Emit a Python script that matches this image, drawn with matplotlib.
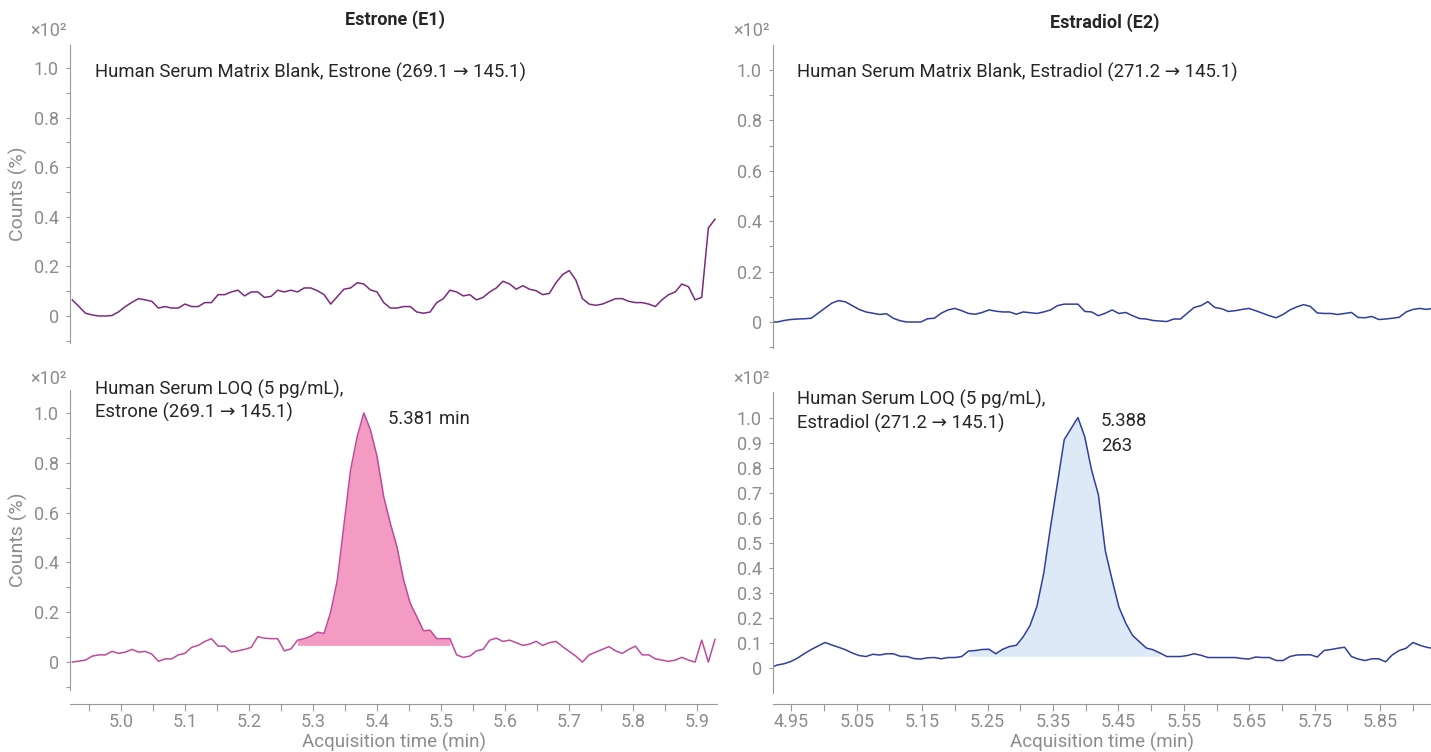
import numpy as np
import matplotlib
matplotlib.use("Agg")
import matplotlib.pyplot as plt
from matplotlib.ticker import FixedLocator, FuncFormatter

plt.rcParams['font.family'] = ['Roboto', 'DejaVu Sans']

# sampling of the two transitions (min)
e1_t0, e1_dt = 4.9236, 0.01036
e2_t0, e2_dt = 4.9178, 0.01045

# counts (x10^2)
e1_blank = [0.065, 0.038, 0.011, 0.004, 0.0, 0.0, 0.002, 0.017, 0.038, 0.055,
            0.070, 0.065, 0.059, 0.032, 0.038, 0.032, 0.032, 0.048, 0.038, 0.038,
            0.054, 0.054, 0.086, 0.086, 0.097, 0.104, 0.081, 0.097, 0.097, 0.075,
            0.079, 0.104, 0.097, 0.104, 0.097, 0.113, 0.113, 0.102, 0.086, 0.048,
            0.078, 0.108, 0.113, 0.134, 0.129, 0.105, 0.097, 0.054, 0.032, 0.032,
            0.038, 0.038, 0.016, 0.011, 0.016, 0.054, 0.070, 0.104, 0.097, 0.081,
            0.086, 0.065, 0.075, 0.097, 0.113, 0.140, 0.129, 0.108, 0.122, 0.108,
            0.102, 0.086, 0.091, 0.134, 0.167, 0.183, 0.145, 0.070, 0.048, 0.043,
            0.048, 0.059, 0.070, 0.070, 0.059, 0.054, 0.054, 0.048, 0.038, 0.065,
            0.086, 0.097, 0.129, 0.118, 0.065, 0.075, 0.355, 0.390]

e1_loq = [0.0, 0.004, 0.008, 0.024, 0.029, 0.029, 0.043, 0.035, 0.040, 0.051,
          0.040, 0.043, 0.032, 0.003, 0.013, 0.013, 0.029, 0.035, 0.059, 0.067,
          0.083, 0.094, 0.064, 0.064, 0.040, 0.045, 0.051, 0.059, 0.102, 0.096,
          0.094, 0.094, 0.045, 0.053, 0.088, 0.094, 0.104, 0.120, 0.115, 0.201,
          0.329, 0.550, 0.771, 0.905, 1.0, 0.932, 0.825, 0.664, 0.557, 0.463,
          0.330, 0.236, 0.182, 0.126, 0.128, 0.094, 0.094, 0.094, 0.029, 0.019,
          0.024, 0.045, 0.051, 0.088, 0.096, 0.083, 0.088, 0.078, 0.067, 0.072,
          0.083, 0.067, 0.078, 0.083, 0.062, 0.043, 0.024, 0.0, 0.029, 0.040,
          0.051, 0.062, 0.045, 0.035, 0.051, 0.064, 0.029, 0.029, 0.013, 0.008,
          0.003, 0.008, 0.019, 0.008, 0.0, 0.088, 0.0, 0.091]

e2_blank = [0.0, 0.0, 0.006, 0.010, 0.012, 0.013, 0.015, 0.035, 0.055, 0.075,
            0.085, 0.080, 0.065, 0.050, 0.040, 0.035, 0.030, 0.033, 0.015, 0.005,
            0.0, 0.0, 0.0, 0.013, 0.015, 0.035, 0.048, 0.054, 0.045, 0.034,
            0.031, 0.038, 0.048, 0.043, 0.040, 0.040, 0.031, 0.040, 0.037, 0.034,
            0.040, 0.048, 0.065, 0.071, 0.071, 0.071, 0.042, 0.040, 0.025, 0.035,
            0.048, 0.034, 0.038, 0.025, 0.014, 0.012, 0.006, 0.004, 0.002, 0.012,
            0.012, 0.035, 0.058, 0.065, 0.081, 0.058, 0.053, 0.042, 0.045, 0.050,
            0.054, 0.045, 0.035, 0.025, 0.017, 0.030, 0.048, 0.060, 0.069, 0.062,
            0.036, 0.034, 0.034, 0.030, 0.034, 0.038, 0.018, 0.017, 0.022, 0.010,
            0.012, 0.015, 0.019, 0.040, 0.050, 0.054, 0.050, 0.055]

e2_loq = [0.0, 0.012, 0.017, 0.026, 0.040, 0.058, 0.074, 0.088, 0.102, 0.092,
          0.083, 0.073, 0.060, 0.050, 0.046, 0.055, 0.052, 0.057, 0.057, 0.047,
          0.046, 0.038, 0.036, 0.041, 0.042, 0.037, 0.042, 0.042, 0.046, 0.068,
          0.070, 0.074, 0.075, 0.057, 0.075, 0.086, 0.091, 0.125, 0.170, 0.246,
          0.378, 0.564, 0.737, 0.912, 0.956, 1.0, 0.923, 0.790, 0.691, 0.469,
          0.352, 0.243, 0.179, 0.130, 0.105, 0.080, 0.073, 0.060, 0.046, 0.046,
          0.046, 0.050, 0.057, 0.051, 0.042, 0.042, 0.042, 0.042, 0.042, 0.038,
          0.036, 0.044, 0.042, 0.042, 0.030, 0.030, 0.046, 0.052, 0.053, 0.053,
          0.044, 0.070, 0.074, 0.079, 0.083, 0.046, 0.036, 0.030, 0.037, 0.037,
          0.025, 0.053, 0.070, 0.079, 0.102, 0.091, 0.083, 0.078]

# integrated peak windows (index range) and their baselines
e1_win, e1_base = (34, 58), 0.067
e2_win, e2_base = (29, 58), 0.047

e1_time = e1_t0 + e1_dt * np.arange(len(e1_blank))
e2_time = e2_t0 + e2_dt * np.arange(len(e2_blank))

W, H = 1431, 752
fig = plt.figure(figsize=(W / 100, H / 100), dpi=100)

GREY = '#8c8c8c'
SPINE = '#9a9a9a'
INK = '#262626'
FS = 13.3


def px_box(x0, x1, ytop, ybot):
    return [x0 / W, 1 - ybot / H, (x1 - x0) / W, (ybot - ytop) / H]


def ftext(x, y, s, **kw):
    kw.setdefault('fontsize', FS)
    kw.setdefault('color', INK)
    kw.setdefault('va', 'center')
    fig.text(x / W, 1 - y / H, s, **kw)


def yfmt(v, pos):
    return '0' if abs(v) < 1e-9 else '%.1f' % v


def style(ax, ylim, major, minor):
    ax.set_ylim(*ylim)
    for s in ('top', 'right'):
        ax.spines[s].set_visible(False)
    ax.spines['left'].set_color(SPINE)
    ax.spines['bottom'].set_color(SPINE)
    ax.yaxis.set_major_locator(FixedLocator(major))
    ax.yaxis.set_minor_locator(FixedLocator(minor))
    ax.yaxis.set_major_formatter(FuncFormatter(yfmt))
    ax.tick_params(axis='y', which='both', length=3, width=0.8, color=SPINE,
                   labelcolor=GREY, labelsize=13, pad=5)
    ax.set_facecolor('none')


ax_tl = fig.add_axes(px_box(70, 717, 45, 343))
ax_tr = fig.add_axes(px_box(773, 1431, 45, 348))
ax_bl = fig.add_axes(px_box(70, 717, 390, 690))
ax_br = fig.add_axes(px_box(773, 1431, 392, 693))

y02 = [0, 0.2, 0.4, 0.6, 0.8, 1.0]
y02m = [-0.1, 0.1, 0.3, 0.5, 0.7, 0.9]
style(ax_tl, (-0.109, 1.093), y02, y02m)
style(ax_tr, (-0.103, 1.099), y02, y02m)
style(ax_bl, (-0.112, 1.092), y02, y02m)
style(ax_br, (-0.0996, 1.102), [round(0.1 * i, 1) for i in range(11)], [-0.1])

for ax in (ax_tl, ax_tr):
    ax.spines['bottom'].set_visible(False)
    ax.set_xticks([])

ax_tl.set_xlim(4.920, 5.9317)
ax_bl.set_xlim(4.920, 5.9317)
ax_tr.set_xlim(4.922, 5.9277)
ax_br.set_xlim(4.922, 5.9277)

ax_bl.xaxis.set_major_locator(FixedLocator(np.round(np.arange(5.0, 5.95, 0.1), 2)))
ax_bl.xaxis.set_minor_locator(FixedLocator(np.round(np.arange(4.95, 5.95, 0.1), 2)))
ax_bl.xaxis.set_major_formatter(FuncFormatter(lambda v, p: '%.1f' % v))
ax_br.xaxis.set_major_locator(FixedLocator(np.round(np.arange(4.95, 5.9, 0.1), 2)))
ax_br.xaxis.set_minor_locator(FixedLocator(np.round(np.arange(5.0, 5.95, 0.1), 2)))
ax_br.xaxis.set_major_formatter(FuncFormatter(lambda v, p: '%.2f' % v))
ax_bl.spines['bottom'].set_position(('outward', 10))
ax_br.spines['bottom'].set_position(('outward', 8))
for ax in (ax_bl, ax_br):
    ax.tick_params(axis='x', which='both', length=5, width=0.8, color=SPINE,
                   labelcolor=GREY, labelsize=13, pad=1.5)

# traces
ax_tl.plot(e1_time, e1_blank, color='#7a2a7f', lw=1.1)
ax_tr.plot(e2_time, e2_blank, color='#2f3f9e', lw=1.1)

a, b = e1_win
ax_bl.fill_between(e1_time[a:b], e1_loq[a:b], e1_base, color='#f39bc2', lw=0)
ax_bl.plot(e1_time, e1_loq, color='#bf4a9c', lw=1.1)

a, b = e2_win
ax_br.fill_between(e2_time[a:b], e2_loq[a:b], e2_base, color='#dde9f7', lw=0)
ax_br.plot(e2_time, e2_loq, color='#2f3f9e', lw=1.1)

# titles, axis labels, multipliers
ftext(395, 20, 'Estrone (E1)', ha='center', fontweight='bold', fontsize=13)
ftext(1105, 23, 'Estradiol (E2)', ha='center', fontweight='bold', fontsize=13)
for x, y in ((30, 31), (30, 379), (733, 31), (733, 379)):
    ftext(x, y, '×10²', color=GREY, fontsize=13)
ftext(18, 194, 'Counts (%)', color=GREY, rotation=90, ha='center', fontsize=14)
ftext(18, 540, 'Counts (%)', color=GREY, rotation=90, ha='center', fontsize=14)
ftext(394, 742, 'Acquisition time (min)', color=GREY, ha='center', fontsize=13.5)
ftext(1102, 742, 'Acquisition time (min)', color=GREY, ha='center', fontsize=13.5)

# trace labels
ftext(95, 72, 'Human Serum Matrix Blank, Estrone (269.1 \u2192 145.1)')
ftext(797, 72, 'Human Serum Matrix Blank, Estradiol (271.2 \u2192 145.1)')
ftext(95, 389, 'Human Serum LOQ (5 pg/mL),')
ftext(95, 412, 'Estrone (269.1 \u2192 145.1)')
ftext(797, 399, 'Human Serum LOQ (5 pg/mL),')
ftext(797, 423, 'Estradiol (271.2 \u2192 145.1)')
ftext(388, 419, '5.381 min')
ftext(1101, 421, '5.388')
ftext(1101, 446, '263')

fig.savefig('out.png', dpi=100)
